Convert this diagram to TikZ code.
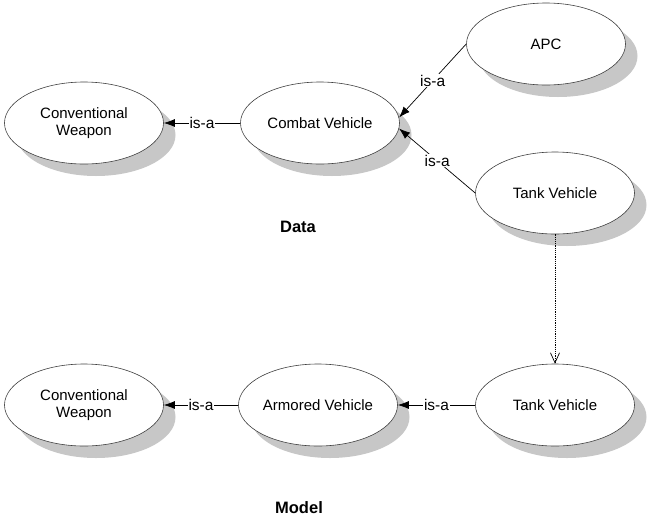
\documentclass[tikz,border=0pt]{standalone}
\usepackage{fontspec}
\setmainfont{Liberation Sans}
\usepackage{tikz}
\usetikzlibrary{shapes.geometric}
\usetikzlibrary{shadows}
\usetikzlibrary{arrows.meta}
\usepackage{xcolor}

\begin{document}
\begin{tikzpicture}[x=1pt,y=-1pt,
	  concept/.style={ellipse,draw=black!75,line width=.6pt,fill=white,
	         minimum width=159pt,minimum height=82pt,inner sep=0pt,align=center,
	         font=\fontsize{15}{17}\selectfont,
	         drop shadow={shadow xshift=12pt,shadow yshift=-12pt,fill=black!22,opacity=1}},
	  isa/.style={draw,line width=.7pt,-{Latex[length=11pt,width=8pt]}},
	  lbl/.style={fill=white,inner sep=1pt,font=\fontsize{15.5}{17}\selectfont},
	  title/.style={font=\fontsize{16.5}{20}\selectfont\bfseries}]
	  \useasboundingbox (0,0) rectangle (651,520);
	  % data level
	  \node[concept] (convtop) at (84,123) {Conventional\\Weapon};
	  \node[concept] (combat) at (320,123) {Combat Vehicle};
	  \node[concept] (apc) at (546,44) {APC};
	  \node[concept] (tanktop) at (555,193) {Tank Vehicle};
	  \node[title] (data) at (298,227) {Data};
	  % model level
	  \node[concept] (convbot) at (84,405) {Conventional\\Weapon};
	  \node[concept] (armored) at (318,405) {Armored Vehicle};
	  \node[concept] (tankbot) at (555,405) {Tank Vehicle};
	  \node[title] (model) at (299,508) {Model};
	  % relations
	  \draw[isa] (combat) -- node[lbl] {is-a} (convtop);
	  \draw[isa] (apc.west) -- node[lbl] {is-a} (combat.4);
	  \draw[isa] (tanktop.west) -- node[lbl] {is-a} (combat.-4);
	  \draw[isa] (armored) -- node[lbl] {is-a} (convbot);
	  \draw[isa] (tankbot) -- node[lbl] {is-a} (armored);
	  \draw[line width=.7pt,dash pattern=on 1.2pt off 1pt,
	        -{Straight Barb[length=10pt,width=9pt,line width=.7pt]}] (tanktop) -- (tankbot);
	\end{tikzpicture}
\end{document}
